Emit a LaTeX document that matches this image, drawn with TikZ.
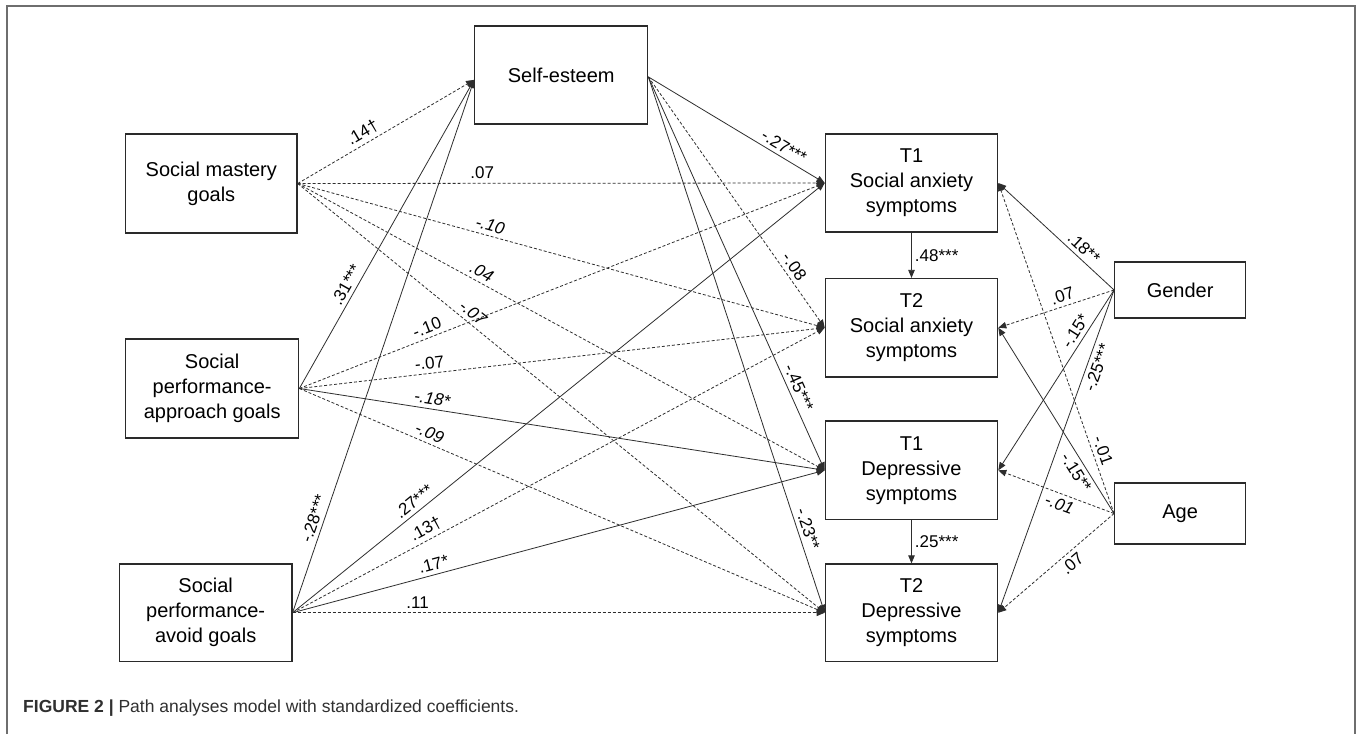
\documentclass[tikz,border=0pt]{standalone}
\usepackage{fontspec}
\setmainfont{Liberation Sans}
\usetikzlibrary{arrows.meta}
\definecolor{boxc}{HTML}{2A2A2A}
\definecolor{linec}{HTML}{2E2E2E}
\definecolor{framec}{HTML}{6E6E6E}
\definecolor{capc}{HTML}{303030}
\begin{document}
\begin{tikzpicture}[x=1pt,y=-1pt,
  box/.style={draw=boxc, line width=1.3pt, align=center, inner sep=0pt,
    font=\fontsize{20}{25}\selectfont, text=black},
  conn/.style={draw=linec, line width=0.8pt, -{Triangle[length=8pt,width=6.5pt]}},
  dconn/.style={conn, dash pattern=on 3pt off 2pt},
  lab/.style={font=\fontsize{17}{19}\selectfont, sloped, above=3pt, inner sep=1pt, text=black},
  labb/.style={font=\fontsize{17}{19}\selectfont, sloped, below=3pt, inner sep=1pt, text=black}]
\useasboundingbox (0,0) rectangle (1358,734);
\fill[white] (0,0) rectangle (1358,734);
\draw[framec, line width=1.4pt] (7,734) -- (7,6) -- (1355,6) -- (1355,734);

% nodes
\node[box, minimum width=173pt, minimum height=98pt] (se) at (561.2,74.9) {Self-esteem};
\node[box, minimum width=171.5pt, minimum height=99pt] (sm) at (211.3,183.5) {Social mastery\\goals};
\node[box, minimum width=173pt, minimum height=99pt] (sa) at (212.2,388.5) {Social\\performance-\\approach goals};
\node[box, minimum width=172.4pt, minimum height=97.5pt] (sv) at (205.7,612.75) {Social\\performance-\\avoid goals};
\node[box, minimum width=172.3pt, minimum height=98pt] (t1a) at (911.5,183) {T1\\Social anxiety\\symptoms};
\node[box, minimum width=172.3pt, minimum height=98.3pt] (t2a) at (911.5,327.7) {T2\\Social anxiety\\symptoms};
\node[box, minimum width=172.3pt, minimum height=98.7pt] (t1d) at (911.5,470.3) {T1\\Depressive\\symptoms};
\node[box, minimum width=172.3pt, minimum height=97.5pt] (t2d) at (911.5,612.75) {T2\\Depressive\\symptoms};
\node[box, minimum width=130.8pt, minimum height=56pt] (g) at (1180.1,290) {Gender};
\node[box, minimum width=130.8pt, minimum height=61pt] (a) at (1180.1,513.5) {Age};

\coordinate (seo) at ([yshift=-2pt]se.east);
\coordinate (sei) at ([yshift=-5pt]se.west);

% from social mastery goals
\draw[dconn] (sm.east) -- node[lab, pos=0.40] {.14†} (sei);
\draw[dconn] (sm.east) -- node[lab, pos=0.35] {.07} (t1a.west);
\draw[dconn] (sm.east) -- node[lab, pos=0.36] {\itshape -.10} (t2a.west);
\draw[dconn] (sm.east) -- node[lab, pos=0.34] {\itshape .04} (t1d.west);
\draw[dconn] (sm.east) -- node[lab, pos=0.32] {\itshape -.07} (t2d.west);

% from social performance-approach goals
\draw[conn] (sa.east) -- node[lab, pos=0.32] {.31***} (sei);
\draw[dconn] (sa.east) -- node[lab, pos=0.25] {-.10} (t1a.west);
\draw[dconn] (sa.east) -- node[lab, pos=0.25] {-.07} (t2a.west);
\draw[conn] (sa.east) -- node[lab, pos=0.25] {\itshape -.18*} (t1d.west);
\draw[dconn] (sa.east) -- node[lab, pos=0.24] {\itshape -.09} (t2d.west);

% from social performance-avoid goals
\draw[conn] (sv.east) -- node[lab, pos=0.17] {-.28***} (sei);
\draw[conn] (sv.east) -- node[lab, pos=0.24] {.27***} (t1a.west);
\draw[dconn] (sv.east) -- node[lab, pos=0.26] {.13†} (t2a.west);
\draw[conn] (sv.east) -- node[lab, pos=0.27] {.17*} (t1d.west);
\draw[dconn] (sv.east) -- node[lab, pos=0.235] {.11} (t2d.west);

% from self-esteem
\draw[conn] (seo) -- node[lab, pos=0.74] {-.27***} (t1a.west);
\draw[dconn] (seo) -- node[lab, pos=0.78] {-.08} (t2a.west);
\draw[conn] (seo) -- node[lab, pos=0.80] {-.45***} (t1d.west);
\draw[conn] (seo) -- node[lab, pos=0.85] {-.23**} (t2d.west);

% autoregressive paths
\draw[conn] (t1a.south) -- node[right, font=\fontsize{17}{19}\selectfont, inner sep=3pt] {.48***} (t2a.north);
\draw[conn] (t1d.south) -- node[right, font=\fontsize{17}{19}\selectfont, inner sep=3pt] {.25***} (t2d.north);

% from gender
\draw[conn] (g.west) -- node[lab, pos=0.32] {.18**} (t1a.east);
\draw[dconn] (g.west) -- node[lab, pos=0.42] {.07} (t2a.east);
\draw[conn] (g.west) -- node[lab, pos=0.26] {-.15*} (t1d.east);
\draw[conn] (g.west) -- node[labb, pos=0.23] {-.25***} (t2d.east);

% from age
\draw[dconn] (a.west) -- node[lab, pos=0.18] {-.01} (t1a.east);
\draw[conn] (a.west) -- node[labb, pos=0.25] {-.15**} (t2a.east);
\draw[dconn] (a.west) -- node[labb, pos=0.44] {\itshape -.01} (t1d.east);
\draw[dconn] (a.west) -- node[labb, pos=0.42] {.07} (t2d.east);

% caption
\node[anchor=west, inner sep=0pt, text=capc, font=\fontsize{17.5}{20}\selectfont] (cap) at (23,708)
  {\textbf{FIGURE 2 |} Path analyses model with standardized coefficients.};
\end{tikzpicture}
\end{document}
